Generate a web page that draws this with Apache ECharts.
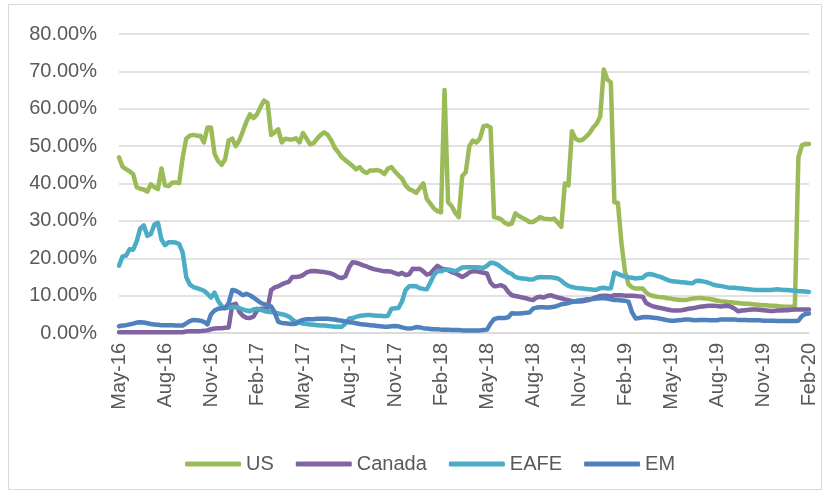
<!DOCTYPE html>
<html>
<head>
<meta charset="utf-8">
<script src="https://cdn.jsdelivr.net/npm/echarts@6/dist/echarts.min.js"></script>
<style>
  html, body { margin: 0; padding: 0; background: #fff; }
  #chart { width: 831px; height: 497px; }
</style>
</head>
<body>
<div id="chart"></div>
<script>
// weekly points, May-16 .. Feb-20 (index = week number)
const tickLabels = ['May-16', 'Aug-16', 'Nov-16', 'Feb-17', 'May-17', 'Aug-17', 'Nov-17', 'Feb-18',
    'May-18', 'Aug-18', 'Nov-18', 'Feb-19', 'May-19', 'Aug-19', 'Nov-19', 'Feb-20'];
const weeksPerTick = 13;

const us = [
    47, 44.5, 43.8, 43.3, 42.5, 39, 38.6, 38.4, 37.8, 39.8,
    39, 38.5, 44, 39.5, 39.3, 40.2, 40.3, 40.1, 47, 52,
    52.8, 53, 52.8, 52.8, 51, 55, 55, 48, 46, 45,
    46.5, 51.5, 52, 50, 51.5, 54, 56.5, 58.5, 57.5, 58.5,
    60.5, 62.2, 61.5, 53, 53.7, 54.5, 51, 52, 51.8, 51.8,
    52.1, 51, 53.5, 52, 50.5, 50.8, 52, 53, 53.7, 53,
    51.5, 49.5, 48.3, 47, 46.2, 45.5, 44.7, 43.8, 44.4, 43.3,
    42.8, 43.5, 43.5, 43.6, 43.3, 42.5, 44, 44.4, 43.2, 42.2,
    41.3, 39.5, 38.5, 38.1, 37.5, 38.8, 40, 35.8, 34.6, 33.3,
    32.6, 32.3, 65, 35, 34, 32.2, 31, 42, 43, 50,
    51.5, 51, 52, 55.3, 55.5, 55, 31, 30.8, 30.4, 29.5,
    29, 29.3, 32, 31.3, 30.8, 30.3, 29.7, 29.7, 30.3, 31,
    30.6, 30.5, 30.4, 30.6, 29.5, 28.4, 40, 39.5, 54, 52,
    51.5, 51.7, 52.5, 53.5, 55, 56, 58, 70.5, 67.8, 67,
    35, 34.8, 24, 16.4, 13, 12.2, 11.9, 11.9, 11.9, 10.8,
    10.2, 9.9, 9.7, 9.6, 9.5, 9.3, 9.2, 9.0, 8.9, 8.8,
    8.8, 9.0, 9.2, 9.3, 9.4, 9.3, 9.2, 9.1, 8.9, 8.7,
    8.5, 8.4, 8.3, 8.2, 8.1, 8.0, 7.9, 7.8, 7.8, 7.7,
    7.6, 7.5, 7.4, 7.4, 7.3, 7.3, 7.2, 7.1, 7.0, 7.0,
    7.0, 7.1, 47, 50.2, 50.6, 50.6
];
const canada = [
    0.2, 0.2, 0.2, 0.2, 0.2, 0.2, 0.2, 0.2, 0.2, 0.2,
    0.2, 0.2, 0.2, 0.2, 0.2, 0.2, 0.2, 0.2, 0.2, 0.4,
    0.5, 0.5, 0.5, 0.5, 0.6, 0.7, 1.0, 1.2, 1.3, 1.3,
    1.4, 1.5, 7.5, 7.8, 5.7, 4.6, 4.1, 4.0, 4.4, 6.0,
    6.5, 6.5, 6.6, 11.5, 12.2, 12.5, 13.0, 13.4, 13.7, 15.0,
    15.0, 15.1, 15.5, 16.2, 16.5, 16.6, 16.5, 16.4, 16.3, 16.1,
    15.9, 15.5, 14.9, 14.7, 15.2, 17.5, 18.9, 18.8, 18.5, 18.1,
    17.8, 17.4, 17.1, 16.9, 16.7, 16.5, 16.5, 16.4, 16.0, 15.7,
    16.1, 15.5, 15.7, 17.2, 17.1, 17.2, 16.5, 15.6, 15.9, 17.0,
    18.0, 17.3, 17.1, 16.8, 16.3, 16.0, 15.5, 15.0, 15.5, 16.2,
    16.5, 16.5, 16.3, 16.1, 15.9, 13.5, 12.5, 12.6, 12.8, 12.3,
    11.0, 10.1, 9.9, 9.7, 9.5, 9.3, 9.0, 8.8, 9.5, 9.7,
    9.5, 9.9, 10.1, 9.8, 9.5, 9.3, 9.0, 8.8, 8.5, 8.4,
    8.4, 8.5, 8.7, 8.9, 9.3, 9.6, 9.9, 10.0, 10.0, 9.8,
    10.1, 10.1, 10.1, 10.0, 10.0, 10.0, 9.9, 9.8, 9.7, 8.0,
    7.5, 7.1, 6.9, 6.7, 6.5, 6.3, 6.1, 6.0, 6.0, 6.1,
    6.3, 6.5, 6.6, 6.8, 7.0, 7.1, 7.2, 7.3, 7.3, 7.2,
    7.1, 7.2, 7.3, 7.0, 6.5, 5.8, 6.0, 6.1, 6.2, 6.3,
    6.3, 6.2, 6.1, 6.0, 5.9, 5.9, 6.0, 6.0, 6.1, 6.1,
    6.2, 6.3, 6.3, 6.3, 6.3, 6.3
];
const eafe = [
    18, 20.5, 20.7, 22.4, 22.3, 24.5, 28, 28.8, 26, 26.5,
    29, 29.5, 25, 23.5, 24.3, 24.3, 24.2, 23.8, 21.5, 15,
    13, 12.3, 12.0, 11.7, 11.3, 10.5, 9.5, 10.8, 8.6, 7.2,
    6.7, 6.8, 7.0, 6.9, 6.7, 6.3, 6.0, 5.8, 6.3, 6.5,
    6.2, 5.9, 5.7, 5.6, 5.4, 5.2, 5.0, 4.8, 4.4, 3.6,
    3.0, 2.7, 2.5, 2.4, 2.3, 2.2, 2.1, 2.0, 2.0, 1.9,
    1.8, 1.7, 1.7, 1.7, 2.5, 3.8, 4.0, 4.3, 4.6, 4.7,
    4.8, 4.8, 4.7, 4.6, 4.6, 4.5, 4.6, 6.5, 6.6, 6.7,
    8.5, 11.5, 12.5, 12.6, 12.5, 12.0, 11.8, 11.7, 13.5, 15.5,
    16.6, 16.5, 16.9, 17.0, 16.8, 16.5, 17.0, 17.5, 17.6, 17.6,
    17.6, 17.6, 17.5, 17.4, 18.0, 18.8, 18.7, 18.3, 17.6, 16.9,
    16.2, 15.8, 15.0, 14.7, 14.6, 14.5, 14.3, 14.3, 14.8, 15.0,
    14.9, 14.9, 14.9, 14.8, 14.6, 14.0, 13.2, 12.6, 12.3, 12.1,
    12.0, 11.9, 11.8, 11.7, 11.6, 11.6, 12.0, 12.1, 11.9, 12.0,
    16.2, 15.8, 15.4, 15.1, 14.9, 14.8, 14.6, 14.7, 14.8, 15.6,
    15.8, 15.6, 15.3, 15.0, 14.6, 14.2, 13.9, 13.8, 13.7, 13.6,
    13.5, 13.4, 13.3, 13.9, 14.0, 13.8, 13.6, 13.3, 12.9, 12.7,
    12.6, 12.4, 12.2, 12.1, 12.1, 12.0, 11.9, 11.8, 11.7, 11.6,
    11.5, 11.5, 11.5, 11.5, 11.5, 11.6, 11.7, 11.6, 11.5, 11.5,
    11.4, 11.3, 11.2, 11.2, 11.1, 11.0
];
const em = [
    1.8, 2.0, 2.1, 2.3, 2.5, 2.8, 2.9, 2.8, 2.6, 2.4,
    2.3, 2.2, 2.1, 2.1, 2.1, 2.1, 2.0, 2.0, 2.0, 2.6,
    3.2, 3.5, 3.4, 3.3, 3.0, 2.3, 5.0, 6.0, 6.5, 6.6,
    6.6, 8.0, 11.5, 11.3, 10.8, 10.1, 10.5, 10.1, 9.5, 8.8,
    8.1, 7.7, 7.4, 7.1, 5.5, 3.0, 2.7, 2.6, 2.5, 2.4,
    2.5, 3.2, 3.5, 3.7, 3.7, 3.7, 3.8, 3.8, 3.8, 3.8,
    3.7, 3.6, 3.4, 3.3, 3.1, 2.9, 2.8, 2.6, 2.4, 2.3,
    2.2, 2.1, 2.0, 1.9, 1.8, 1.7, 1.7, 1.8, 1.9, 1.8,
    1.5, 1.3, 1.2, 1.3, 1.6, 1.5, 1.3, 1.2, 1.1, 1.0,
    1.0, 0.9, 0.9, 0.9, 0.8, 0.8, 0.8, 0.7, 0.7, 0.7,
    0.7, 0.7, 0.7, 0.8, 0.9, 2.5, 3.7, 4.0, 4.0, 4.0,
    4.2, 5.3, 5.2, 5.2, 5.3, 5.4, 5.5, 6.5, 6.8, 6.9,
    6.9, 6.8, 6.9, 7.0, 7.3, 7.7, 7.8, 8.0, 8.3, 8.5,
    8.7, 8.8, 9.0, 9.0, 9.1, 9.2, 9.3, 9.3, 9.2, 9.0,
    8.8, 8.8, 8.7, 8.6, 8.4, 5.5, 3.9, 4.0, 4.2, 4.3,
    4.2, 4.1, 4.0, 3.8, 3.6, 3.4, 3.3, 3.3, 3.4, 3.5,
    3.6, 3.6, 3.5, 3.4, 3.5, 3.5, 3.5, 3.4, 3.4, 3.4,
    3.6, 3.6, 3.6, 3.6, 3.6, 3.5, 3.5, 3.5, 3.4, 3.4,
    3.4, 3.4, 3.3, 3.3, 3.3, 3.3, 3.2, 3.2, 3.2, 3.2,
    3.2, 3.2, 3.3, 4.5, 5.1, 5.2
];

const seriesNames = ['US', 'Canada', 'EAFE', 'EM'];
const seriesData = [us, canada, eafe, em];
const colors = ['#9BBB59', '#8064A2', '#4BACC6', '#4F81BD'];

const chart = echarts.init(document.getElementById('chart'), null, { renderer: 'canvas' });

const textColor = '#595959';
const fontFamily = '"Liberation Sans", Arial, sans-serif';

const option = {
    backgroundColor: '#ffffff',
    animation: false,
    color: colors,
    textStyle: { fontFamily: fontFamily },
    graphic: [{
        type: 'rect',
        shape: { x: 8.5, y: 4.5, width: 813, height: 485 },
        style: { fill: 'none', stroke: '#d9d9d9', lineWidth: 1 },
        silent: true
    }],
    grid: {
        left: 119,
        right: 22,
        top: 34,
        bottom: 164
    },
    legend: {
        data: seriesNames,
        left: 180,
        top: 449,
        icon: 'roundRect',
        itemWidth: 56,
        itemHeight: 5,
        itemGap: 22,
        textStyle: { color: textColor, fontSize: 20, fontFamily: fontFamily }
    },
    xAxis: {
        type: 'value',
        min: 0,
        max: weeksPerTick * (tickLabels.length - 1),
        interval: weeksPerTick,
        axisLine: { lineStyle: { color: '#d9d9d9', width: 1.5 } },
        axisTick: { show: false },
        splitLine: { show: false },
        axisLabel: {
            rotate: 90,
            margin: 10,
            color: textColor,
            fontSize: 20,
            fontFamily: fontFamily,
            formatter: function (v) {
                return tickLabels[Math.round(v / weeksPerTick)] || '';
            }
        }
    },
    yAxis: {
        type: 'value',
        min: 0,
        max: 80,
        interval: 10,
        axisLine: { show: false },
        axisTick: { show: false },
        splitLine: { lineStyle: { color: '#d9d9d9', width: 1.5 } },
        axisLabel: {
            margin: 22,
            color: textColor,
            fontSize: 20,
            fontFamily: fontFamily,
            formatter: function (v) {
                return v.toFixed(2) + '%';
            }
        }
    },
    series: seriesNames.map(function (name, k) {
        return {
            name: name,
            type: 'line',
            showSymbol: false,
            symbol: 'none',
            data: seriesData[k].map(function (v, i) { return [i, v]; }),
            lineStyle: { width: 4.5, color: colors[k], join: 'round', cap: 'round' },
            z: 2
        };
    })
};

chart.setOption(option);
</script>
</body>
</html>
